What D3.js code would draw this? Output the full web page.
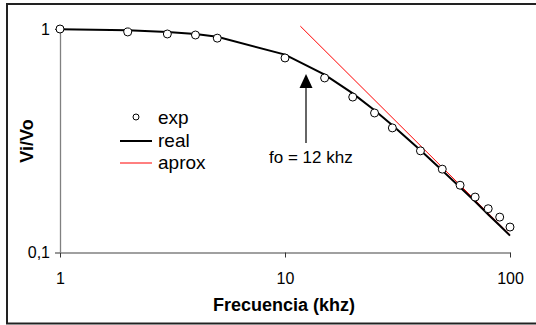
<!DOCTYPE html>
<html>
<head>
<meta charset="utf-8">
<script src="https://cdn.jsdelivr.net/npm/d3@7"></script>
<style>
  body { margin: 0; background: #fff; }
  svg { display: block; font-family: Arial, "Liberation Sans", sans-serif; }
</style>
</head>
<body>
<div id="chart"></div>
<script>
// measured points (exp)
const freqs = [1, 2, 3, 4, 5, 10, 15, 20, 25, 30, 40, 50, 60, 70, 80, 90, 100];
const expVals = [1.0, 0.97, 0.95, 0.94, 0.91, 0.742, 0.604, 0.496, 0.421, 0.361, 0.285, 0.236, 0.2, 0.177, 0.157, 0.144, 0.13];
// theoretical curve (real)
const realVals = [0.997, 0.986, 0.970, 0.949, 0.923, 0.768, 0.625, 0.515, 0.433, 0.371, 0.287, 0.233, 0.196, 0.169, 0.148, 0.132, 0.119];
// asymptote (aprox)
const aproxFreqs = [11.7, 100];
const aproxVals = [1.03, 0.12];
const xTicks = [1, 10, 100];
const yTicks = [0.1, 1];
const fo = 12.4;

const width = 536, height = 325;
const margin = {top: 29, right: 26, bottom: 72.5, left: 60};

const svg = d3.select('#chart').append('svg')
  .attr('width', width)
  .attr('height', height);

// outer frame
svg.append('rect')
  .attr('x', 7).attr('y', 4)
  .attr('width', 600).attr('height', 319.5)
  .attr('fill', 'none')
  .attr('stroke', '#222')
  .attr('stroke-width', 2);

const x = d3.scaleLog()
  .domain([1, 100])
  .range([margin.left, width - margin.right]);
const y = d3.scaleLog()
  .domain([0.1, 1])
  .range([height - margin.bottom, margin.top]);

const fmtY = d => d === 1 ? '1' : '0,1';

// axes
const xAxis = svg.append('g')
  .attr('transform', `translate(0,${y(0.1)})`)
  .call(d3.axisBottom(x).tickValues(xTicks).tickFormat(d3.format('d')).tickSize(5).tickSizeOuter(0).tickPadding(15));
const yAxis = svg.append('g')
  .attr('transform', `translate(${x(1)},0)`)
  .call(d3.axisLeft(y).tickValues(yTicks).tickFormat(fmtY).tickSize(5).tickSizeOuter(0).tickPadding(5));

[xAxis, yAxis].forEach(g => {
  g.select('.domain').attr('stroke', '#808080').attr('stroke-width', 1.3);
  g.selectAll('.tick line').attr('stroke', '#333');
  g.selectAll('.tick text')
    .attr('fill', '#000')
    .style('font-size', '16px')
    .style('font-family', 'Arial, "Liberation Sans", sans-serif');
});
xAxis.selectAll('.tick text').attr('dy', '0.71em');

// axis titles
svg.append('text')
  .attr('x', 284).attr('y', 311)
  .attr('text-anchor', 'middle')
  .style('font-size', '18px').style('font-weight', 'bold')
  .text('Frecuencia (khz)');
svg.append('text')
  .attr('transform', `translate(33,141) rotate(-90)`)
  .attr('text-anchor', 'middle')
  .style('font-size', '18px').style('font-weight', 'bold')
  .text('Vi/Vo');

// aprox line
const aprox = aproxFreqs.map((f, i) => ({f, v: aproxVals[i]}));
svg.append('path')
  .datum(aprox)
  .attr('fill', 'none')
  .attr('stroke', '#ff0000')
  .attr('stroke-width', 1)
  .attr('d', d3.line().x(d => x(d.f)).y(d => y(d.v)));

// real line
const real = freqs.map((f, i) => ({f, v: realVals[i]}));
svg.append('path')
  .datum(real)
  .attr('fill', 'none')
  .attr('stroke', '#000')
  .attr('stroke-width', 2)
  .attr('d', d3.line().x(d => x(d.f)).y(d => y(d.v)));

// exp points
const exp = freqs.map((f, i) => ({f, v: expVals[i]}));
svg.append('g')
  .selectAll('circle')
  .data(exp)
  .enter().append('circle')
  .attr('cx', d => x(d.f))
  .attr('cy', d => y(d.v))
  .attr('r', 4)
  .attr('fill', '#fff')
  .attr('stroke', '#000')
  .attr('stroke-width', 1);

// fo arrow
const ax = x(fo);
svg.append('line')
  .attr('x1', ax).attr('x2', ax)
  .attr('y1', 143).attr('y2', 86)
  .attr('stroke', '#666').attr('stroke-width', 2);
svg.append('path')
  .attr('d', `M${ax},74 L${ax - 6.5},88 L${ax + 6.5},88 Z`)
  .attr('fill', '#000');
svg.append('text')
  .attr('x', 269).attr('y', 163)
  .style('font-size', '17px')
  .text('fo = 12 khz');

// legend
const legend = svg.append('g');
legend.append('circle')
  .attr('cx', 136).attr('cy', 117).attr('r', 3)
  .attr('fill', '#fff').attr('stroke', '#000');
legend.append('line')
  .attr('x1', 120).attr('x2', 152).attr('y1', 141).attr('y2', 141)
  .attr('stroke', '#000').attr('stroke-width', 2);
legend.append('line')
  .attr('x1', 120).attr('x2', 152).attr('y1', 163).attr('y2', 163)
  .attr('stroke', '#ff0000').attr('stroke-width', 1);
[['exp', 124], ['real', 147], ['aprox', 169]].forEach(([t, by]) => {
  legend.append('text')
    .attr('x', 158).attr('y', by)
    .style('font-size', '19px')
    .text(t);
});
</script>
</body>
</html>
